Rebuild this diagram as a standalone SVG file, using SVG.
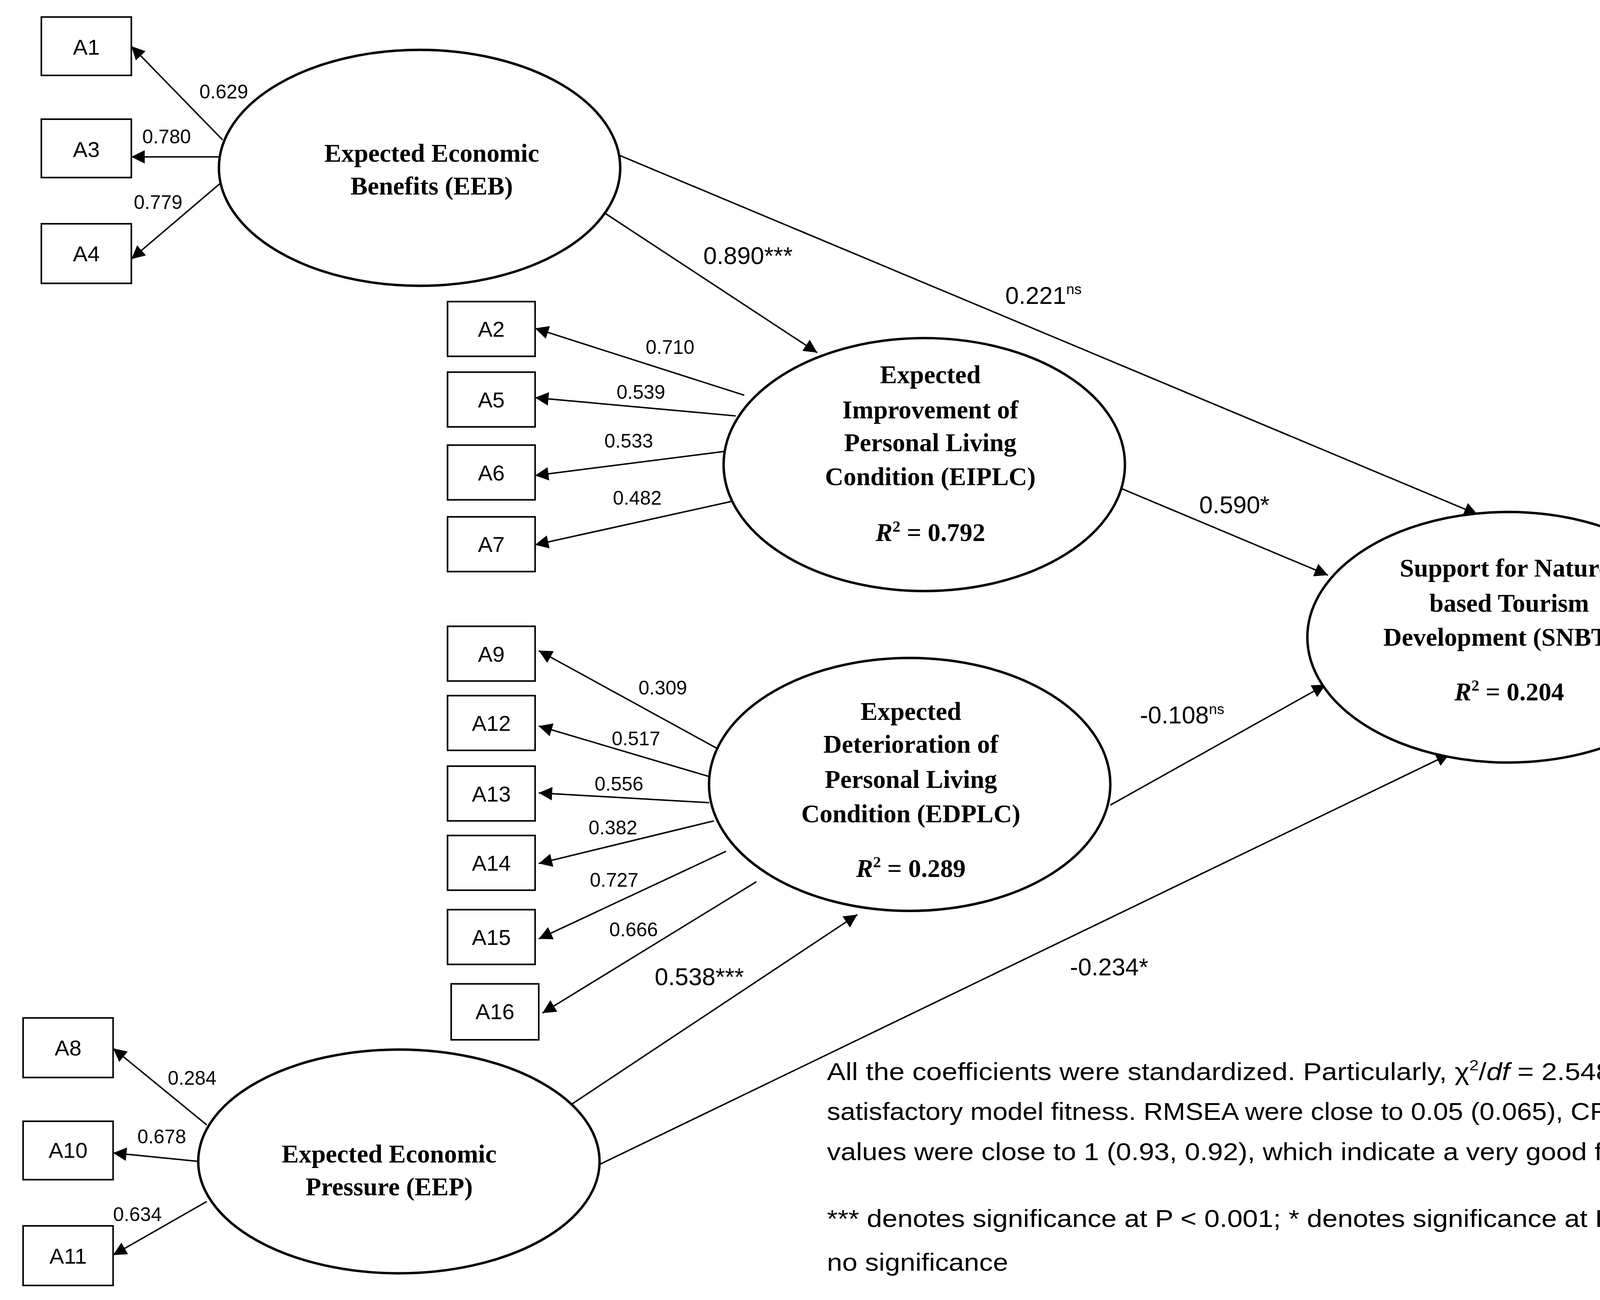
<svg xmlns="http://www.w3.org/2000/svg" width="4866" height="3328" viewBox="0 0 4866 3328">
<defs>
<marker id="ah" viewBox="0 0 10 10" refX="10" refY="5" markerWidth="14" markerHeight="11" markerUnits="userSpaceOnUse" orient="auto"><path d="M0,0 L10,5 L0,10 z" fill="#000"/></marker>
<style>
.b{fill:#fff;stroke:#000;stroke-width:1.3}
.e{fill:#fff;stroke:#000;stroke-width:2}
.bt{font-family:"Liberation Sans",Arial,sans-serif;font-size:18px;text-anchor:middle}
.t{font-family:"Liberation Serif","Times New Roman",serif;font-size:21px;font-weight:bold;text-anchor:middle}
.l{font-family:"Liberation Sans",Arial,sans-serif;font-size:16px;text-anchor:middle}
.p{font-family:"Liberation Sans",Arial,sans-serif;font-size:20px;text-anchor:middle}
.n{font-family:"Liberation Sans",Arial,sans-serif;font-size:20px}
.c line{stroke:#000;stroke-width:1.2;marker-end:url(#ah)}
</style>
</defs>
<rect width="4866" height="3328" fill="#fff"/>
<g transform="scale(3.1133)">
<g class="c" id="connectors">
<line x1="183" y1="115" x2="108" y2="38"/>
<line x1="180" y1="129" x2="108" y2="129"/>
<line x1="182" y1="150" x2="108" y2="213"/>
<line x1="612" y1="325" x2="440" y2="270"/>
<line x1="605" y1="342" x2="440" y2="327"/>
<line x1="597" y1="371" x2="440" y2="391"/>
<line x1="603" y1="412" x2="440" y2="448"/>
<line x1="598" y1="620" x2="443" y2="535"/>
<line x1="588" y1="640" x2="443" y2="597"/>
<line x1="583" y1="660" x2="443" y2="652"/>
<line x1="587" y1="675" x2="443" y2="710"/>
<line x1="597" y1="700" x2="443" y2="772"/>
<line x1="622" y1="725" x2="446" y2="833"/>
<line x1="1383" y1="472" x2="1477" y2="428"/>
<line x1="1400" y1="502" x2="1477" y2="484"/>
<line x1="1405" y1="527" x2="1477" y2="542"/>
<line x1="1390" y1="572" x2="1477" y2="603"/>
<line x1="170" y1="925" x2="93" y2="862"/>
<line x1="163" y1="955" x2="93" y2="948"/>
<line x1="170" y1="988" x2="93" y2="1032"/>
<line x1="497" y1="175" x2="672" y2="290"/>
<line x1="510" y1="128" x2="1215" y2="423"/>
<line x1="918" y1="400" x2="1092" y2="473"/>
<line x1="913" y1="662" x2="1090" y2="563"/>
<line x1="470" y1="908" x2="705" y2="752"/>
<line x1="492" y1="958" x2="1192" y2="620"/>
</g>
<g id="labels">
<text class="l" x="184" y="81">0.629</text>
<text class="l" x="137" y="118">0.780</text>
<text class="l" x="130" y="172">0.779</text>
<text class="l" x="551" y="291">0.710</text>
<text class="l" x="527" y="328">0.539</text>
<text class="l" x="517" y="368">0.533</text>
<text class="l" x="524" y="415">0.482</text>
<text class="l" x="545" y="571">0.309</text>
<text class="l" x="523" y="613">0.517</text>
<text class="l" x="509" y="650">0.556</text>
<text class="l" x="504" y="686">0.382</text>
<text class="l" x="505" y="729">0.727</text>
<text class="l" x="521" y="770">0.666</text>
<text class="l" x="1413" y="436">0.605</text>
<text class="l" x="1443" y="482">0.749</text>
<text class="l" x="1452" y="527">0.845</text>
<text class="l" x="1447" y="572">0.568</text>
<text class="l" x="158" y="892">0.284</text>
<text class="l" x="133" y="940">0.678</text>
<text class="l" x="113" y="1004">0.634</text>
<text class="p" x="615" y="217">0.890***</text>
<text class="p" x="858" y="250">0.221<tspan font-size="12" dy="-8">ns</tspan></text>
<text class="p" x="1015" y="422">0.590*</text>
<text class="p" x="972" y="595">-0.108<tspan font-size="12" dy="-8">ns</tspan></text>
<text class="p" x="575" y="810">0.538***</text>
<text class="p" x="912" y="802">-0.234*</text>
</g>
<g id="A1"><rect class="b" x="34" y="14" width="74" height="48"/><text class="bt" x="71" y="45">A1</text></g>
<g id="A3"><rect class="b" x="34" y="98" width="74" height="48"/><text class="bt" x="71" y="129">A3</text></g>
<g id="A4"><rect class="b" x="34" y="184" width="74" height="49"/><text class="bt" x="71" y="215">A4</text></g>
<g id="A2"><rect class="b" x="368" y="248" width="72" height="45"/><text class="bt" x="404" y="277">A2</text></g>
<g id="A5"><rect class="b" x="368" y="306" width="72" height="45"/><text class="bt" x="404" y="335">A5</text></g>
<g id="A6"><rect class="b" x="368" y="366" width="72" height="45"/><text class="bt" x="404" y="395">A6</text></g>
<g id="A7"><rect class="b" x="368" y="425" width="72" height="45"/><text class="bt" x="404" y="454">A7</text></g>
<g id="A9"><rect class="b" x="368" y="515" width="72" height="45"/><text class="bt" x="404" y="544">A9</text></g>
<g id="A12"><rect class="b" x="368" y="572" width="72" height="45"/><text class="bt" x="404" y="601">A12</text></g>
<g id="A13"><rect class="b" x="368" y="630" width="72" height="45"/><text class="bt" x="404" y="659">A13</text></g>
<g id="A14"><rect class="b" x="368" y="687" width="72" height="45"/><text class="bt" x="404" y="716">A14</text></g>
<g id="A15"><rect class="b" x="368" y="748" width="72" height="45"/><text class="bt" x="404" y="777">A15</text></g>
<g id="A16"><rect class="b" x="371" y="809" width="72" height="46"/><text class="bt" x="407" y="838">A16</text></g>
<g id="B1"><rect class="b" x="1477" y="406" width="71" height="47"/><text class="bt" x="1512" y="436">B1</text></g>
<g id="B2"><rect class="b" x="1477" y="462" width="71" height="46"/><text class="bt" x="1512" y="492">B2</text></g>
<g id="B3"><rect class="b" x="1477" y="520" width="71" height="46"/><text class="bt" x="1512" y="550">B3</text></g>
<g id="B4"><rect class="b" x="1477" y="578" width="71" height="46"/><text class="bt" x="1512" y="608">B4</text></g>
<g id="A8"><rect class="b" x="19" y="837" width="74" height="49"/><text class="bt" x="56" y="868">A8</text></g>
<g id="A10"><rect class="b" x="19" y="922" width="74" height="48"/><text class="bt" x="56" y="952">A10</text></g>
<g id="A11"><rect class="b" x="19" y="1008" width="74" height="49"/><text class="bt" x="56" y="1039">A11</text></g>
<g id="EEB"><ellipse class="e" cx="345" cy="138" rx="165" ry="97"/>
<text class="t" x="355" y="133">Expected Economic</text><text class="t" x="355" y="160">Benefits (EEB)</text></g>
<g id="EIPLC"><ellipse class="e" cx="760" cy="382" rx="165" ry="104"/>
<text class="t" x="765" y="315">Expected</text><text class="t" x="765" y="344">Improvement of</text><text class="t" x="765" y="371">Personal Living</text><text class="t" x="765" y="399">Condition (EIPLC)</text>
<text class="t" x="765" y="445"><tspan font-style="italic">R</tspan><tspan font-size="13" dy="-8">2</tspan><tspan dy="8"> = 0.792</tspan></text></g>
<g id="EDPLC"><ellipse class="e" cx="748" cy="645" rx="165" ry="104"/>
<text class="t" x="749" y="592">Expected</text><text class="t" x="749" y="619">Deterioration of</text><text class="t" x="749" y="648">Personal Living</text><text class="t" x="749" y="676">Condition (EDPLC)</text>
<text class="t" x="749" y="721"><tspan font-style="italic">R</tspan><tspan font-size="13" dy="-8">2</tspan><tspan dy="8"> = 0.289</tspan></text></g>
<g id="SNBTD"><ellipse class="e" cx="1240" cy="524" rx="165" ry="103"/>
<text class="t" x="1241" y="474">Support for Nature-</text><text class="t" x="1241" y="503">based Tourism</text><text class="t" x="1241" y="531">Development (SNBTD)</text>
<text class="t" x="1241" y="576"><tspan font-style="italic">R</tspan><tspan font-size="13" dy="-8">2</tspan><tspan dy="8"> = 0.204</tspan></text></g>
<g id="EEP"><ellipse class="e" cx="328" cy="955" rx="165" ry="92"/>
<text class="t" x="320" y="956">Expected Economic</text><text class="t" x="320" y="983">Pressure (EEP)</text></g>
<g id="note">
<text class="n" x="680" y="888" textLength="788" lengthAdjust="spacingAndGlyphs">All the coefficients were standardized. Particularly, χ<tspan font-size="12" dy="-8">2</tspan><tspan dy="8">/</tspan><tspan font-style="italic">df</tspan> = 2.548 which implies</text>
<text class="n" x="680" y="921" textLength="792" lengthAdjust="spacingAndGlyphs">satisfactory model fitness. RMSEA were close to 0.05 (0.065), CFI values and IFI</text>
<text class="n" x="680" y="954" textLength="655" lengthAdjust="spacingAndGlyphs">values were close to 1 (0.93, 0.92), which indicate a very good fit.</text>
<text class="n" x="680" y="1009" textLength="820" lengthAdjust="spacingAndGlyphs">*** denotes significance at P &lt; 0.001; * denotes significance at P &lt; 0.05; <tspan font-size="14" dy="-8">ns</tspan><tspan dy="8"> means</tspan></text>
<text class="n" x="680" y="1045" textLength="149" lengthAdjust="spacingAndGlyphs">no significance</text>
</g>
</g>
</svg>
